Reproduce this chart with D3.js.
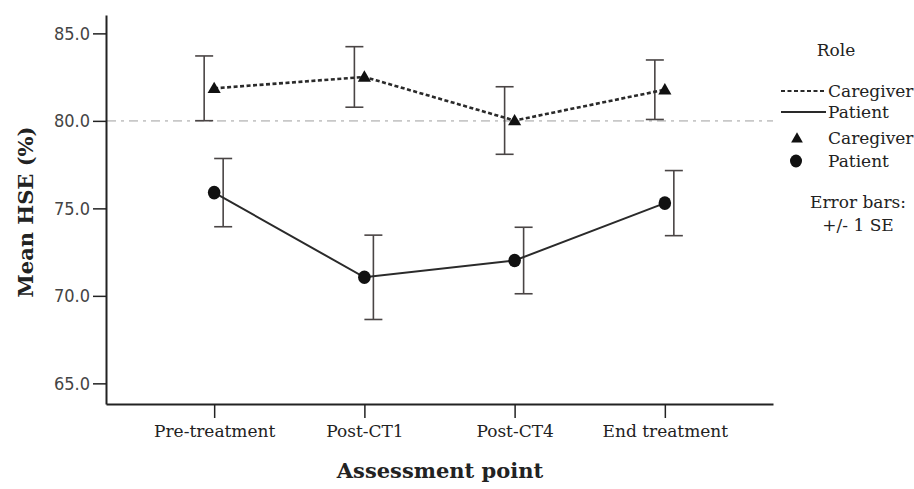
<!DOCTYPE html>
<html>
<head>
<meta charset="utf-8">
<script src="https://d3js.org/d3.v7.min.js"></script>
<style>
  body { margin: 0; background: #fff; }
  text { fill: #222; }
  .leg { font-family: "DejaVu Serif", serif; font-size: 17px; }
</style>
</head>
<body>
<div id="chart"></div>
<script>
// data
const categories = ["Pre-treatment", "Post-CT1", "Post-CT4", "End treatment"];
const caregiverMean = [81.86, 82.51, 80.02, 81.78];
const caregiverSE = [1.85, 1.73, 1.93, 1.70];
const patientMean = [75.90, 71.06, 72.02, 75.30];
const patientSE = [1.95, 2.41, 1.90, 1.86];
const yTicks = [65, 70, 75, 80, 85];
const refValue = 80;

const width = 914, height = 489;

let svg = d3.select("#chart")
  .append("svg")
    .attr("width", width)
    .attr("height", height);

// scales
let x = d3.scalePoint()
  .domain(categories)
  .range([106, 773])
  .padding(0.72);

let y = d3.scaleLinear()
  .domain([63.82, 86.05])
  .range([404, 15]);

// reference line at 80
svg.append("line")
  .attr("x1", 107).attr("x2", 773)
  .attr("y1", y(refValue)).attr("y2", y(refValue))
  .attr("stroke", "#c8c8c8")
  .attr("stroke-width", 1.6)
  .attr("stroke-dasharray", "9,5,3,5");

// Y axis
let yAxis = svg.append("g")
  .attr("transform", "translate(106,0)")
  .call(d3.axisLeft(y).tickValues(yTicks).tickFormat(d3.format(".1f")).tickSize(13).tickSizeOuter(0));
yAxis.select(".domain").attr("stroke", "#222").attr("stroke-width", 2);
yAxis.selectAll(".tick line").attr("stroke", "#222").attr("stroke-width", 1.5);
yAxis.selectAll(".tick text")
  .attr("x", -16)
  .style("font-family", "'DejaVu Sans Condensed', 'DejaVu Sans', sans-serif")
  .style("font-size", "18px")
  .style("fill", "#444");

// X axis
let xAxis = svg.append("g")
  .attr("transform", "translate(0,404)")
  .call(d3.axisBottom(x).tickSize(14).tickSizeOuter(0));
xAxis.select(".domain").attr("stroke", "#222").attr("stroke-width", 2);
xAxis.selectAll(".tick line").attr("stroke", "#222").attr("stroke-width", 1.5);
xAxis.selectAll(".tick text")
  .attr("y", 21)
  .style("font-family", "'DejaVu Serif', serif")
  .style("font-size", "17px")
  .style("fill", "#222");

// axis titles
svg.append("text")
  .attr("x", 440).attr("y", 478)
  .attr("text-anchor", "middle")
  .style("font-family", "'DejaVu Serif', serif")
  .style("font-weight", "bold")
  .style("font-size", "21px")
  .text("Assessment point");

svg.append("text")
  .attr("transform", "translate(33,212) rotate(-90)")
  .attr("text-anchor", "middle")
  .style("font-family", "'DejaVu Serif', serif")
  .style("font-weight", "bold")
  .style("font-size", "21px")
  .text("Mean HSE (%)");

// build series
let caregiver = categories.map((c, i) => ({cat: c, mean: caregiverMean[i], se: caregiverSE[i]}));
let patient = categories.map((c, i) => ({cat: c, mean: patientMean[i], se: patientSE[i]}));

// error bars (caregiver sit left of the marker, patient right)
function drawErrors(data, dx) {
  let g = svg.append("g").attr("stroke", "#4a4545").attr("stroke-width", 1.6);
  data.forEach(d => {
    let cx = x(d.cat) + dx;
    let top = y(d.mean + d.se), bot = y(d.mean - d.se);
    g.append("line").attr("x1", cx).attr("x2", cx).attr("y1", top).attr("y2", bot);
    g.append("line").attr("x1", cx - 9).attr("x2", cx + 9).attr("y1", top).attr("y2", top);
    g.append("line").attr("x1", cx - 9).attr("x2", cx + 9).attr("y1", bot).attr("y2", bot);
  });
}
drawErrors(caregiver, -10);
drawErrors(patient, 9);

// lines
let line = d3.line()
  .x(d => x(d.cat))
  .y(d => y(d.mean));

svg.append("path")
  .datum(caregiver)
  .attr("d", line)
  .attr("fill", "none")
  .attr("stroke", "#2a2a2a")
  .attr("stroke-width", 2.6)
  .attr("stroke-dasharray", "4,2.5");

svg.append("path")
  .datum(patient)
  .attr("d", line)
  .attr("fill", "none")
  .attr("stroke", "#2a2a2a")
  .attr("stroke-width", 2);

// markers
let tri = d3.symbol().type(d3.symbolTriangle).size(75);
svg.append("g")
  .selectAll("path")
  .data(caregiver)
  .enter().append("path")
    .attr("d", tri)
    .attr("transform", d => "translate(" + x(d.cat) + "," + (y(d.mean) + 1) + ")")
    .attr("fill", "#111");

svg.append("g")
  .selectAll("ellipse")
  .data(patient)
  .enter().append("ellipse")
    .attr("cx", d => x(d.cat))
    .attr("cy", d => y(d.mean))
    .attr("rx", 6.3)
    .attr("ry", 6.8)
    .attr("fill", "#111");

// legend
let legend = svg.append("g");

legend.append("text").attr("class", "leg").attr("x", 836).attr("y", 56).attr("text-anchor", "middle").text("Role");

legend.append("line")
  .attr("x1", 781).attr("x2", 826).attr("y1", 91).attr("y2", 91)
  .attr("stroke", "#2a2a2a").attr("stroke-width", 2).attr("stroke-dasharray", "4,2.5");
legend.append("text").attr("class", "leg").attr("x", 828).attr("y", 97).text("Caregiver");

legend.append("line")
  .attr("x1", 781).attr("x2", 826).attr("y1", 112).attr("y2", 112)
  .attr("stroke", "#2a2a2a").attr("stroke-width", 2);
legend.append("text").attr("class", "leg").attr("x", 828).attr("y", 118).text("Patient");

legend.append("path")
  .attr("d", d3.symbol().type(d3.symbolTriangle).size(60))
  .attr("transform", "translate(797,139)")
  .attr("fill", "#111");
legend.append("text").attr("class", "leg").attr("x", 828).attr("y", 144).text("Caregiver");

legend.append("ellipse")
  .attr("cx", 796).attr("cy", 161).attr("rx", 6).attr("ry", 6.4)
  .attr("fill", "#111");
legend.append("text").attr("class", "leg").attr("x", 828).attr("y", 167).text("Patient");

legend.append("text").attr("class", "leg").attr("x", 858).attr("y", 208).attr("text-anchor", "middle").text("Error bars:");
legend.append("text").attr("class", "leg").attr("x", 858).attr("y", 231).attr("text-anchor", "middle").text("+/- 1 SE");
</script>
</body>
</html>
